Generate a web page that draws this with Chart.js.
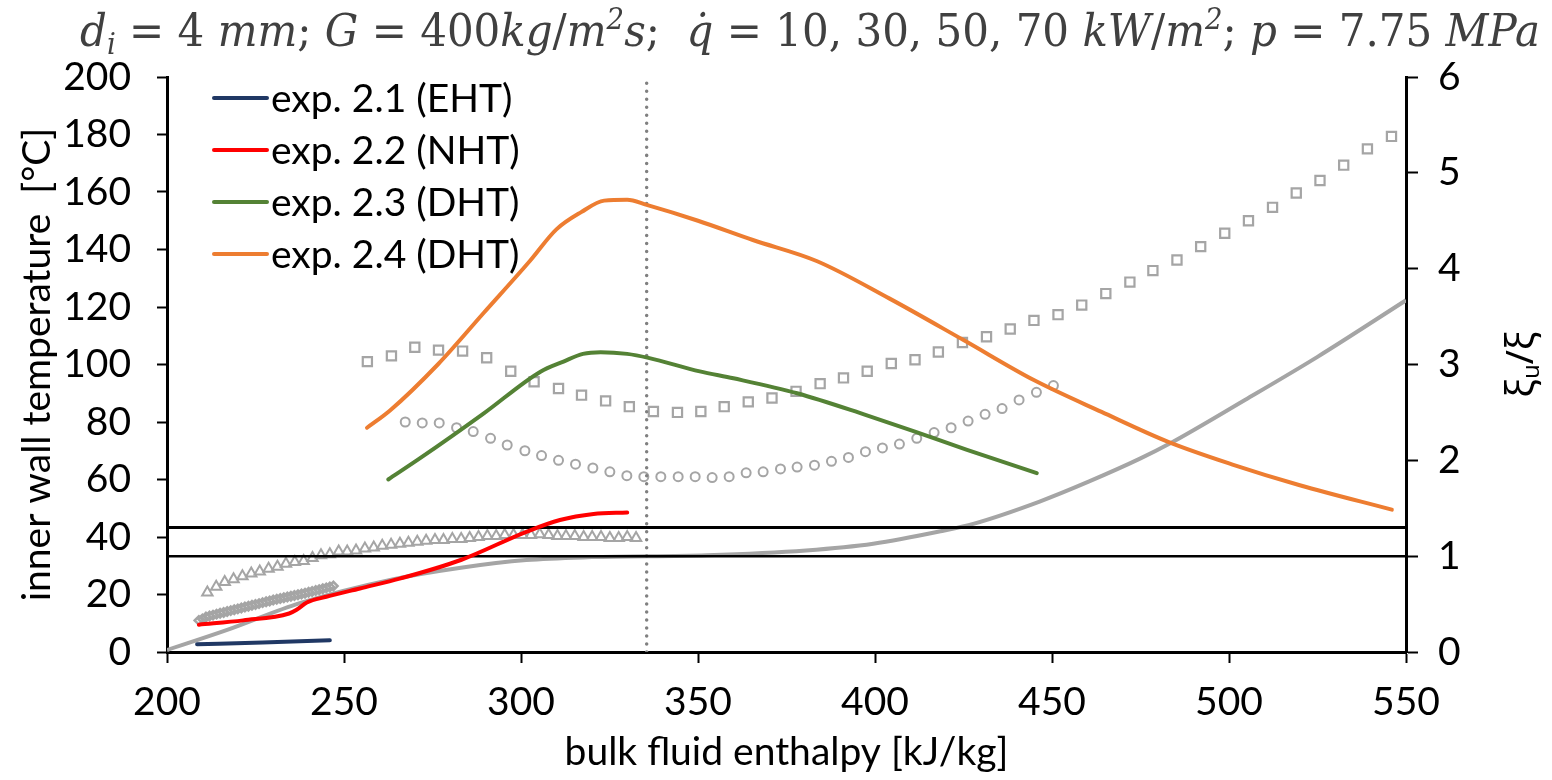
<!DOCTYPE html>
<html>
<head>
<meta charset="utf-8">
<script src="https://cdn.jsdelivr.net/npm/chart.js@4.4.1/dist/chart.umd.min.js"></script>
<style>
  html, body { margin: 0; padding: 0; background: #fff; overflow: hidden; }
  canvas { display: block; }
</style>
</head>
<body>
<canvas id="chart" width="1552" height="780"></canvas>
<script>
// --- data ---
const expLabels = ['exp. 2.1 (EHT)', 'exp. 2.2 (NHT)', 'exp. 2.3 (DHT)', 'exp. 2.4 (DHT)'];

const exp21X = [208.5, 227, 246];
const exp21Y = [2.7, 3.3, 4.1];

const exp22X = [209, 221.5, 234.5, 236.5, 239.5, 245, 254.5, 266, 283, 301.5, 311, 320.5, 330];
const exp22Y = [9.5, 11, 13.4, 14.6, 17.2, 19.2, 22.1, 25.6, 32, 41.8, 45.9, 48, 48.5];

const exp23X = [262.5, 271.5, 289.5, 305.5, 312, 317.5, 322.5, 330, 336, 350.5, 360, 378, 397.5, 411.5, 426, 445.7];
const exp23Y = [60, 67.4, 83, 97.5, 101, 103.7, 104.3, 103.7, 102.3, 97.6, 95.2, 90, 82.4, 76.6, 70.3, 62.2];

const exp24X = [256.5, 263, 276.5, 289.5, 302.5, 310, 317, 323.5, 330, 335.5, 350, 365.5, 383.5, 404, 425, 445, 464, 483, 501, 520, 546];
const exp24Y = [78, 84, 100, 118, 136, 147, 153, 157, 157.3, 155.5, 150, 143.3, 136, 123, 108.5, 94.5, 83.5, 73, 65.2, 58, 49.5];

// xi ratio (right axis)
const ratioLineX = [200, 217, 237.5, 264, 283, 301.5, 320, 352.5, 380.5, 399.5, 418.5, 428, 446.5, 460.5, 475, 483, 504.5, 525, 550];
const ratioLineY = [0.02, 0.23, 0.51, 0.76, 0.88, 0.96, 0.99, 1.01, 1.06, 1.13, 1.26, 1.34, 1.57, 1.78, 2.02, 2.17, 2.63, 3.08, 3.67];

const diamondX = [209, 210, 211, 212, 213, 214, 215, 216, 217, 218, 219, 220, 221, 222, 223, 224, 225, 226, 227, 228,
  229, 230, 231, 232, 233, 234, 235, 236, 237, 238, 239, 240, 241, 242, 243, 244, 245, 246, 247];
const diamondY = [0.33, 0.345, 0.365, 0.375, 0.385, 0.395, 0.405, 0.413, 0.422, 0.432, 0.441, 0.45, 0.46, 0.469, 0.478, 0.487, 0.496, 0.505, 0.515, 0.524,
  0.533, 0.542, 0.55, 0.558, 0.566, 0.574, 0.582, 0.59, 0.598, 0.606, 0.614, 0.623, 0.632, 0.641, 0.65, 0.66, 0.669, 0.679, 0.688];

const triangleX = [211.4, 213.9, 216.3, 218.8, 221.3, 223.8, 226.2, 228.7, 231.2, 233.6, 236.1, 238.6, 241.1, 243.5, 246.0, 248.5, 250.9,
  253.4, 255.9, 258.4, 260.8, 263.3, 265.8, 268.2, 270.7, 273.2, 275.7, 278.1, 280.6, 283.1, 285.5, 288.0, 290.5, 293.0, 295.4,
  297.9, 300.4, 302.8, 305.3, 307.8, 310.3, 312.7, 315.2, 317.7, 320.1, 322.6, 325.1, 327.6, 330.0, 332.5];
const triangleY = [0.62, 0.68, 0.73, 0.76, 0.79, 0.82, 0.84, 0.87, 0.89, 0.92, 0.94, 0.95, 0.98, 1.01, 1.02, 1.05, 1.05,
  1.06, 1.08, 1.09, 1.11, 1.12, 1.13, 1.14, 1.15, 1.16, 1.17, 1.17, 1.18, 1.18, 1.19, 1.20, 1.21, 1.21, 1.22,
  1.22, 1.22, 1.22, 1.23, 1.22, 1.21, 1.21, 1.21, 1.20, 1.20, 1.20, 1.19, 1.19, 1.20, 1.19];

const circleX = [267.3, 272.1, 276.9, 281.8, 286.5, 291.4, 296.1, 301.1, 305.8, 310.6, 315.4, 320.3, 325.1, 329.9, 334.7, 339.5,
  344.4, 349.2, 354, 358.8, 363.6, 368.4, 373.3, 378, 382.9, 387.7, 392.5, 397.3, 402.1, 406.9, 411.8, 416.7, 421.5, 426.3,
  431.1, 435.9, 440.7, 445.6, 450.4];
const circleY = [2.40, 2.39, 2.39, 2.34, 2.30, 2.23, 2.16, 2.10, 2.05, 2.00, 1.96, 1.92, 1.88, 1.84, 1.83, 1.83,
  1.83, 1.83, 1.82, 1.83, 1.87, 1.88, 1.91, 1.93, 1.95, 1.99, 2.03, 2.09, 2.13, 2.17, 2.23, 2.29, 2.34, 2.41,
  2.48, 2.54, 2.63, 2.71, 2.78];

const squareX = [256.6, 263.4, 270, 276.7, 283.5, 290.3, 297.1, 303.7, 310.6, 317.1, 323.9, 330.6, 337.4, 344.2, 350.8, 357.4,
  364.2, 370.9, 377.7, 384.5, 391.1, 397.8, 404.6, 411.3, 417.9, 424.7, 431.5, 438.2, 444.9, 451.7, 458.4, 465.2, 472,
  478.5, 485.3, 492, 498.8, 505.5, 512.3, 519, 525.7, 532.4, 539.1, 545.9];
const squareY = [3.03, 3.09, 3.18, 3.15, 3.14, 3.07, 2.93, 2.82, 2.75, 2.68, 2.62, 2.56, 2.51, 2.50, 2.51, 2.56,
  2.61, 2.65, 2.72, 2.80, 2.86, 2.93, 3.01, 3.05, 3.13, 3.23, 3.29, 3.37, 3.46, 3.52, 3.62, 3.74, 3.86,
  3.98, 4.09, 4.23, 4.37, 4.50, 4.64, 4.79, 4.92, 5.08, 5.25, 5.38];

// reference lines
const pseudoCriticalH = 335.5;
const ratioLevels = [1.3, 1.0];

const xTicksRange = [200, 550];
const yLeftRange = [0, 200];
const yRightRange = [0, 6];

const pts = (xs, ys) => xs.map((x, i) => ({ x: x, y: ys[i] }));

const FONT = 'Lato';
const FS = 39;
const GREY = '#A5A5A5';

const lineDs = (label, xs, ys, color) => ({
  label: label,
  data: pts(xs, ys),
  borderColor: color,
  backgroundColor: color,
  borderWidth: 4,
  pointRadius: 0,
  cubicInterpolationMode: 'monotone',
  borderCapStyle: 'round',
  yAxisID: 'y'
});

const markerDs = (xs, ys, style, radius, bw) => ({
  data: pts(xs, ys),
  showLine: false,
  pointStyle: style,
  pointRadius: radius,
  pointBorderColor: GREY,
  pointBackgroundColor: 'rgba(0,0,0,0)',
  pointBorderWidth: bw,
  yAxisID: 'y2'
});

const datasets = [
  lineDs(expLabels[0], exp21X, exp21Y, '#203864'),
  lineDs(expLabels[1], exp22X, exp22Y, '#FF0000'),
  lineDs(expLabels[2], exp23X, exp23Y, '#548235'),
  lineDs(expLabels[3], exp24X, exp24Y, '#ED7D31'),
  {
    data: [{ x: xTicksRange[0], y: ratioLevels[0] }, { x: xTicksRange[1], y: ratioLevels[0] }],
    borderColor: '#000', borderWidth: 3, pointRadius: 0, yAxisID: 'y2'
  },
  {
    data: [{ x: xTicksRange[0], y: ratioLevels[1] }, { x: xTicksRange[1], y: ratioLevels[1] }],
    borderColor: '#000', borderWidth: 2.5, pointRadius: 0, yAxisID: 'y2'
  },
  {
    data: [{ x: pseudoCriticalH, y: yLeftRange[0] }, { x: pseudoCriticalH, y: yLeftRange[1] }],
    borderColor: '#808080', borderWidth: 3.5, borderDash: [0.01, 8], borderCapStyle: 'round',
    pointRadius: 0, yAxisID: 'y'
  },
  markerDs(triangleX, triangleY, 'triangle', 6, 2),
  markerDs(diamondX, diamondY, 'rectRot', 4.2, 2.5),
  markerDs(circleX, circleY, 'circle', 4.5, 2),
  markerDs(squareX, squareY, 'rect', 6.5, 2.2),
  {
    data: pts(ratioLineX, ratioLineY),
    borderColor: GREY, borderWidth: 4, pointRadius: 0,
    cubicInterpolationMode: 'monotone', yAxisID: 'y2'
  }
];

// title, legend and right axis title
const overlay = {
  id: 'overlay',
  afterDraw(chart) {
    const ctx = chart.ctx;
    ctx.save();

    // title (equation style)
    const segs = [
      ['d', 'i'], ['i', 'sub'], [' = 4 ', 'n'], ['mm', 'i'], ['; ', 'n'], ['G', 'i'], [' = 400', 'n'],
      ['kg', 'i'], ['/', 'n'], ['m', 'i'], ['2', 'sup'], ['s', 'i'], [';  ', 'n'], ['q\u0307', 'i'],
      [' = 10, 30, 50, 70 ', 'n'], ['kW', 'i'], ['/', 'n'], ['m', 'i'], ['2', 'sup'], ['; ', 'n'],
      ['p', 'i'], [' = 7.75 ', 'n'], ['MPa', 'i']
    ];
    const fs = 44;
    const fontFor = (k) => {
      if (k === 'i') return 'italic ' + fs + 'px "DejaVu Serif"';
      if (k === 'sub' || k === 'sup') return 'italic ' + Math.round(fs * 0.65) + 'px "DejaVu Serif"';
      return fs + 'px "DejaVu Serif"';
    };
    let total = 0;
    segs.forEach(s => { ctx.font = fontFor(s[1]); total += ctx.measureText(s[0]).width; });
    const sx = 1460 / total;
    ctx.translate(80, 46);
    ctx.scale(sx, 1);
    ctx.fillStyle = '#404040';
    ctx.textBaseline = 'alphabetic';
    ctx.textAlign = 'left';
    let cx = 0;
    segs.forEach(s => {
      ctx.font = fontFor(s[1]);
      const dy = s[1] === 'sub' ? 8 : (s[1] === 'sup' ? -17 : 0);
      ctx.fillText(s[0], cx, dy);
      cx += ctx.measureText(s[0]).width;
    });
    ctx.restore();

    // legend
    ctx.save();
    ctx.font = FS + 'px ' + FONT;
    ctx.textBaseline = 'alphabetic';
    ctx.fillStyle = '#000';
    for (let i = 0; i < 4; i++) {
      const y = 98 + 52 * i;
      ctx.strokeStyle = chart.data.datasets[i].borderColor;
      ctx.lineWidth = 4;
      ctx.lineCap = 'round';
      ctx.beginPath();
      ctx.moveTo(214, y);
      ctx.lineTo(267, y);
      ctx.stroke();
      ctx.fillText(chart.data.datasets[i].label, 271, y + 14);
    }
    ctx.restore();

    // right axis title, read bottom to top
    ctx.save();
    ctx.translate(1522, chart.chartArea.top + (chart.chartArea.bottom - chart.chartArea.top) / 2);
    ctx.rotate(-Math.PI / 2);
    ctx.fillStyle = '#000';
    ctx.textBaseline = 'middle';
    const big = '38px "Noto Sans"', small = '24px "Noto Sans"';
    ctx.font = big; const w1 = ctx.measureText('\u03BE').width;
    ctx.font = small; const w2 = ctx.measureText('u').width;
    ctx.font = big; const w3 = ctx.measureText('/\u03BE').width;
    let px = -(w1 + w2 + w3) / 2;
    ctx.font = big; ctx.fillText('\u03BE', px, 0); px += w1;
    ctx.font = small; ctx.fillText('u', px, 10); px += w2;
    ctx.font = big; ctx.fillText('/\u03BE', px, 0);
    ctx.restore();
  }
};

const tickFont = { family: FONT, size: FS };

new Chart(document.getElementById('chart'), {
  type: 'line',
  data: { datasets: datasets },
  options: {
    responsive: false,
    animation: false,
    devicePixelRatio: 1,
    layout: { padding: { top: 77, left: 0, right: 0, bottom: 0 } },
    plugins: { legend: { display: false }, tooltip: { enabled: false }, title: { display: false } },
    scales: {
      x: {
        type: 'linear',
        min: xTicksRange[0], max: xTicksRange[1],
        ticks: { stepSize: 50, font: tickFont, color: '#000', padding: 16, maxRotation: 0 },
        grid: { display: true, drawOnChartArea: false, tickLength: 11, tickColor: '#000', tickWidth: 2 },
        border: { display: true, color: '#000', width: 3 },
        title: { display: true, text: 'bulk fluid enthalpy [kJ/kg]', font: tickFont, color: '#000', padding: { top: 0, bottom: 4 } },
        afterFit: (s) => { s.height = 128; }
      },
      y: {
        position: 'left',
        min: yLeftRange[0], max: yLeftRange[1],
        ticks: { stepSize: 20, font: tickFont, color: '#000', padding: 26 },
        grid: { display: true, drawOnChartArea: false, tickLength: 10, tickColor: '#000', tickWidth: 2 },
        border: { display: true, color: '#000', width: 3 },
        title: { display: true, text: 'inner wall temperature  [\u00B0C]', font: tickFont, color: '#000', padding: { top: 14, bottom: 0 } },
        afterFit: (s) => { s.width = 167; }
      },
      y2: {
        position: 'right',
        min: yRightRange[0], max: yRightRange[1],
        ticks: { stepSize: 1, font: tickFont, color: '#000', padding: 20 },
        grid: { display: true, drawOnChartArea: false, tickLength: 12, tickColor: '#000', tickWidth: 2 },
        border: { display: true, color: '#000', width: 3 },
        afterFit: (s) => { s.width = 146; }
      }
    }
  },
  plugins: [overlay]
});
</script>
</body>
</html>
